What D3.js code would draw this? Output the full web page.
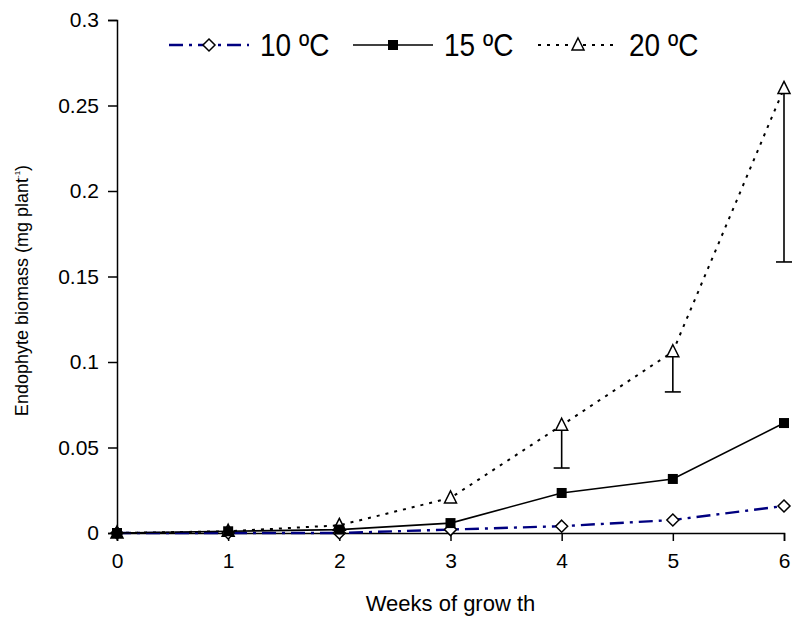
<!DOCTYPE html>
<html>
<head>
<meta charset="utf-8">
<script src="https://cdn.jsdelivr.net/npm/d3@7"></script>
<style>
  body { margin: 0; background: #fff; }
  text { font-family: "Liberation Sans", Arial, sans-serif; fill: #000; }
</style>
</head>
<body>
<svg id="chart"></svg>
<script>
// data
const weeks = [0, 1, 2, 3, 4, 5, 6];
const t10 = [0, 0, 0, 0.002, 0.004, 0.0076, 0.0158];
const t15 = [0, 0.001, 0.002, 0.0058, 0.0234, 0.0316, 0.0643];
const t20 = [0, 0.001, 0.0045, 0.0205, 0.063, 0.106, 0.26];
const t20Low = [null, null, null, null, 0.038, 0.0825, 0.1585];  // lower error bar ends
const seriesNames = ["10 ºC", "15 ºC", "20 ºC"];
const yTicks = [0, 0.05, 0.1, 0.15, 0.2, 0.25, 0.3];

const width = 798, height = 617;
const svg = d3.select("#chart").attr("width", width).attr("height", height);

const x = d3.scaleLinear().domain([0, 6]).range([117, 784]);
const y = d3.scaleLinear().domain([0, 0.3]).range([533, 20]);

// axes
const yAxis = svg.append("g")
    .attr("transform", `translate(${x(0)},0)`)
    .call(d3.axisLeft(y).tickValues(yTicks).tickSize(9).tickPadding(9)
        .tickFormat(d => d === 0 ? "0" : String(+d.toFixed(2))));
const xAxis = svg.append("g")
    .attr("transform", `translate(0,${y(0)})`)
    .call(d3.axisBottom(x).tickValues(weeks).tickSize(8).tickPadding(12)
        .tickFormat(d3.format("d")));
[yAxis, xAxis].forEach(a => {
    a.select(".domain").attr("stroke", "#000").attr("stroke-width", 1.5);
    a.selectAll(".tick line").attr("stroke", "#000").attr("stroke-width", 1.5);
    a.selectAll(".tick text")
        .style("font-size", "21px")
        .style("font-family", "'Liberation Sans', Arial, sans-serif");
});

// axis titles
svg.append("text")
    .attr("x", x(3)).attr("y", 611)
    .attr("text-anchor", "middle").style("font-size", "22px")
    .text("Weeks of grow th");
const yt = svg.append("text")
    .attr("transform", `translate(28,${y(0.15) + 14}) rotate(-90)`)
    .attr("text-anchor", "middle").style("font-size", "18px");
yt.append("tspan").text("Endophyte biomass (mg plant");
yt.append("tspan").style("font-size", "8px").attr("dy", -8).text("-1");
yt.append("tspan").attr("dy", 8).text(")");

// line styles
const styles = [
    { data: t10, stroke: "#000080", width: 2.4, dash: "14,6,3,6", marker: "diamond" },
    { data: t15, stroke: "#000", width: 1.6, dash: null, marker: "square" },
    { data: t20, stroke: "#000", width: 2, dash: "3,6", marker: "triangle" }
];

const line = d3.line().x((d, i) => x(weeks[i])).y(d => y(d));

// error bars for 20 ºC (lower side only)
const eb = weeks.map((w, i) => ({ w, v: t20[i], lo: t20Low[i] })).filter(d => d.lo !== null);
svg.append("g").selectAll("line.eb").data(eb).join("line")
    .attr("x1", d => x(d.w)).attr("x2", d => x(d.w))
    .attr("y1", d => y(d.v)).attr("y2", d => y(d.lo))
    .attr("stroke", "#000").attr("stroke-width", 1.6);
svg.append("g").selectAll("line.cap").data(eb).join("line")
    .attr("x1", d => x(d.w) - 8).attr("x2", d => x(d.w) + 8)
    .attr("y1", d => y(d.lo)).attr("y2", d => y(d.lo))
    .attr("stroke", "#000").attr("stroke-width", 1.6);

[styles[2], styles[0], styles[1]].forEach(s => {
    svg.append("path")
        .attr("d", line(s.data))
        .attr("fill", "none")
        .attr("stroke", s.stroke)
        .attr("stroke-width", s.width)
        .attr("stroke-dasharray", s.dash);
});

function drawMarker(g, type, cx, cy) {
    if (type === "square") {
        g.append("rect").attr("x", cx - 5).attr("y", cy - 5).attr("width", 10).attr("height", 10)
            .attr("fill", "#000");
    } else if (type === "diamond") {
        g.append("path").attr("d", `M${cx},${cy - 6}L${cx + 6},${cy}L${cx},${cy + 6}L${cx - 6},${cy}Z`)
            .attr("fill", "#fff").attr("stroke", "#000").attr("stroke-width", 1.5);
    } else {
        g.append("path").attr("d", `M${cx},${cy - 7}L${cx + 6},${cy + 5}L${cx - 6},${cy + 5}Z`)
            .attr("fill", "#fff").attr("stroke", "#000").attr("stroke-width", 1.5);
    }
}

const markers = svg.append("g");
[styles[2], styles[0], styles[1]].forEach(s => {
    s.data.forEach((v, i) => drawMarker(markers, s.marker, x(weeks[i]), y(v)));
});

// legend
const legendX = [169, 353, 538];
const legend = svg.append("g");
styles.forEach((s, i) => {
    const lx = legendX[i], ly = 45;
    legend.append("line")
        .attr("x1", lx).attr("x2", lx + 80).attr("y1", ly).attr("y2", ly)
        .attr("stroke", s.stroke).attr("stroke-width", s.width)
        .attr("stroke-dasharray", s.dash);
    drawMarker(legend, s.marker, lx + 40, ly);
    legend.append("text")
        .attr("transform", `translate(${lx + 91},${ly + 11}) scale(1,1.12)`)
        .style("font-size", "28px")
        .text(seriesNames[i]);
});
</script>
</body>
</html>
